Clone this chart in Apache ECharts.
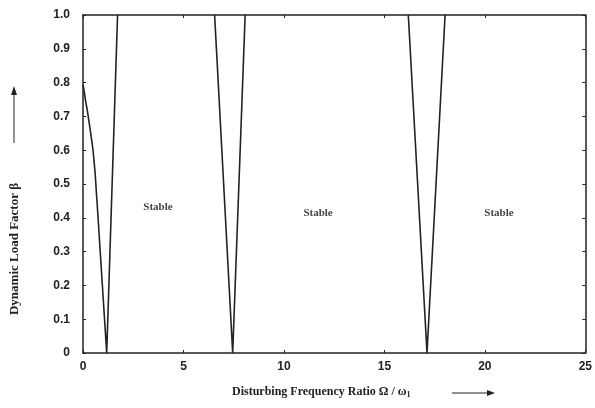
<!DOCTYPE html>
<html>
<head>
<meta charset="utf-8">
<script src="https://cdn.jsdelivr.net/npm/echarts@6/dist/echarts.min.js"></script>
<style>
  html, body { margin: 0; padding: 0; background: #fff; }
  #chart { width: 595px; height: 408px; }
</style>
</head>
<body>
<div id="chart"></div>
<script>
// Instability boundaries: dynamic load factor β versus frequency ratio Ω/ω1
const region1 = [[0, 0.793], [0.05, 0.778], [0.12, 0.749], [0.21, 0.719], [0.34, 0.668],
                 [0.49, 0.605], [0.6, 0.535], [0.69, 0.455], [1.18, 0], [1.72, 1.0]];
const region2 = [[6.55, 1.0], [7.45, 0], [8.07, 1.0]];
const region3 = [[16.19, 1.0], [17.12, 0], [18.02, 1.0]];

// Stable-zone annotations [Ω/ω1, β]
const stableLabels = [[3.73, 0.432], [11.7, 0.414], [20.7, 0.414]];
const stableText = 'Stable';

const xTicks = [0, 5, 10, 15, 20, 25];
const yTicks = [0, 0.1, 0.2, 0.3, 0.4, 0.5, 0.6, 0.7, 0.8, 0.9, 1.0];

const xTitle = 'Disturbing Frequency Ratio Ω / ω';
const yTitle = 'Dynamic Load Factor β';

const INK = '#222';
const serif = '"Liberation Serif", "DejaVu Serif", serif';
const sans = '"Liberation Sans", Arial, sans-serif';

const chart = echarts.init(document.getElementById('chart'), null, { renderer: 'canvas' });

const boundary = (data) => ({
  type: 'line',
  data: data,
  showSymbol: false,
  symbol: 'none',
  lineStyle: { color: INK, width: 1.6 },
  animation: false,
  silent: true
});

const axisCommon = () => ({
  type: 'value',
  axisLine: { show: true, onZero: false, lineStyle: { color: INK, width: 1.5 } },
  axisTick: { show: true, inside: true, length: 3, lineStyle: { color: INK, width: 1 } },
  splitLine: { show: false }
});

chart.setOption({
  animation: false,
  backgroundColor: '#fff',
  grid: { left: 83, right: 2, top: 15, bottom: 55 },
  xAxis: [
    Object.assign(axisCommon(), {
      position: 'bottom',
      min: xTicks[0], max: xTicks[xTicks.length - 1], interval: 5,
      axisLabel: { color: INK, fontFamily: sans, fontWeight: 'bold', fontSize: 12, margin: 8,
                   formatter: v => String(v) }
    }),
    Object.assign(axisCommon(), {
      position: 'top',
      min: xTicks[0], max: xTicks[xTicks.length - 1], interval: 5,
      axisLabel: { show: false }
    })
  ],
  yAxis: [
    Object.assign(axisCommon(), {
      position: 'left',
      min: yTicks[0], max: yTicks[yTicks.length - 1], interval: 0.1,
      axisLabel: { color: INK, fontFamily: sans, fontWeight: 'bold', fontSize: 12, margin: 13,
                   formatter: v => (v === 0 ? '0' : v.toFixed(1)) }
    }),
    Object.assign(axisCommon(), {
      position: 'right',
      min: yTicks[0], max: yTicks[yTicks.length - 1], interval: 0.1,
      axisLabel: { show: false }
    })
  ],
  series: [
    boundary(region1),
    boundary(region2),
    boundary(region3),
    {
      type: 'scatter',
      data: stableLabels,
      symbolSize: 0,
      silent: true,
      label: {
        show: true,
        position: 'inside',
        formatter: stableText,
        color: '#111',
        fontFamily: serif,
        fontWeight: 'bold',
        fontSize: 11
      }
    }
  ],
  graphic: [
    // horizontal axis title and arrow
    {
      type: 'text', left: 232, top: 386,
      style: {
        text: xTitle + '{sub|1}',
        fill: INK, font: 'bold 12px ' + serif,
        rich: { sub: { fontSize: 8, fontWeight: 'bold', fontFamily: serif, fill: INK, padding: [6, 0, 0, 0] } }
      }
    },
    { type: 'line', shape: { x1: 452, y1: 393, x2: 489, y2: 393 }, style: { stroke: INK, lineWidth: 1 } },
    { type: 'polygon', shape: { points: [[495, 393], [487, 390], [487, 396]] }, style: { fill: INK } },
    // vertical axis title and arrow
    {
      type: 'text', x: 15, y: 249, rotation: Math.PI / 2,
      style: {
        text: yTitle, fill: INK, font: 'bold 13px ' + serif,
        align: 'center', verticalAlign: 'middle'
      }
    },
    { type: 'line', shape: { x1: 14, y1: 143, x2: 14, y2: 93 }, style: { stroke: INK, lineWidth: 1 } },
    { type: 'polygon', shape: { points: [[14, 86], [11, 95], [17, 95]] }, style: { fill: INK } }
  ]
});
</script>
</body>
</html>
